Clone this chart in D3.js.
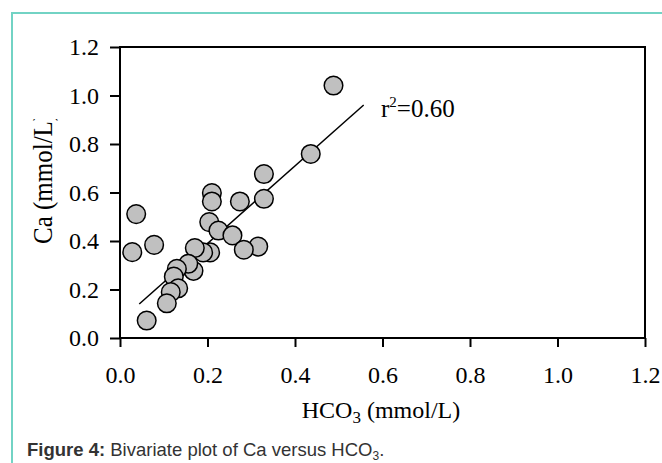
<!DOCTYPE html>
<html>
<head>
<meta charset="utf-8">
<script src="https://cdn.jsdelivr.net/npm/d3@7"></script>
<style>
  body { margin: 0; background: #fff; }
  svg { display: block; }
</style>
</head>
<body>
<svg width="662" height="463"></svg>
<script>
// values
const hco3 = [0.488, 0.436, 0.329, 0.329, 0.274, 0.210, 0.210, 0.204, 0.225, 0.257,
              0.316, 0.283, 0.206, 0.190, 0.171, 0.168, 0.156, 0.130, 0.123, 0.133,
              0.116, 0.107, 0.061, 0.037, 0.078, 0.028];
const ca   = [1.041, 0.759, 0.676, 0.574, 0.563, 0.598, 0.563, 0.478, 0.443, 0.423,
              0.377, 0.364, 0.353, 0.353, 0.371, 0.277, 0.306, 0.285, 0.253, 0.205,
              0.189, 0.143, 0.072, 0.511, 0.384, 0.354];
const fitX = [0.044, 0.557];
const fitY = [0.140, 0.961];
const xTicks = [0, 0.2, 0.4, 0.6, 0.8, 1.0, 1.2];
const yTicks = [0, 0.2, 0.4, 0.6, 0.8, 1.0, 1.2];

const points = hco3.map((d, i) => ({ x: d, y: ca[i] }));

const svg = d3.select('svg');
const serif = '"Liberation Serif", "Times New Roman", serif';

// teal frame round the figure
svg.append('rect')
    .attr('x', 12).attr('y', 13)
    .attr('width', 700).attr('height', 500)
    .attr('fill', 'none')
    .attr('stroke', '#72d3c4')
    .attr('stroke-width', 2);

const x = d3.scaleLinear().domain([0, 1.2]).range([120, 645]);
const y = d3.scaleLinear().domain([0, 1.2]).range([338, 47]);

// y axis
const yAxis = svg.append('g')
    .attr('transform', `translate(${x(0)},0)`)
    .call(d3.axisLeft(y).tickValues(yTicks).tickFormat(d3.format('.1f'))
        .tickSize(10).tickPadding(11));
yAxis.select('.domain').remove();

// x axis
const xAxis = svg.append('g')
    .attr('transform', `translate(0,${y(0)})`)
    .call(d3.axisBottom(x).tickValues(xTicks).tickFormat(d3.format('.1f'))
        .tickSize(9).tickPadding(19));
xAxis.select('.domain').remove();

svg.selectAll('.tick line').attr('stroke', '#000').attr('stroke-width', 2);
svg.selectAll('.tick text')
    .attr('fill', '#000')
    .style('font-family', serif)
    .style('font-size', '24px');

// plot box
svg.append('rect')
    .attr('x', x(0)).attr('y', y(1.2))
    .attr('width', x(1.2) - x(0)).attr('height', y(0) - y(1.2))
    .attr('fill', 'none')
    .attr('stroke', '#000')
    .attr('stroke-width', 2);

// regression line
svg.append('line')
    .attr('x1', x(fitX[0])).attr('y1', y(fitY[0]))
    .attr('x2', x(fitX[1])).attr('y2', y(fitY[1]))
    .attr('stroke', '#000')
    .attr('stroke-width', 1.5);

// points
svg.append('g').selectAll('circle')
    .data(points)
    .enter().append('circle')
    .attr('cx', d => x(d.x))
    .attr('cy', d => y(d.y))
    .attr('r', 9.3)
    .attr('fill', '#c0c0c0')
    .attr('stroke', '#000')
    .attr('stroke-width', 1.5);

// r2 label
const r2 = svg.append('text')
    .attr('x', 381).attr('y', 117)
    .style('font-family', serif)
    .style('font-size', '25px');
r2.append('tspan').text('r');
r2.append('tspan').attr('dy', -10).style('font-size', '15px').text('2');
r2.append('tspan').attr('dy', 10).text('=0.60');

// x axis title
const xt = svg.append('text')
    .attr('x', 381).attr('y', 418)
    .attr('text-anchor', 'middle')
    .style('font-family', serif)
    .style('font-size', '24px');
xt.append('tspan').text('HCO');
xt.append('tspan').attr('dy', 5).style('font-size', '17px').text('3');
xt.append('tspan').attr('dy', -5).text(' (mmol/L)');

// y axis title, top cut off as in the source
svg.append('clipPath').attr('id', 'ylab-clip')
    .append('rect').attr('x', 0).attr('y', 119).attr('width', 100).attr('height', 200);
svg.append('g')
    .attr('clip-path', 'url(#ylab-clip)')
    .append('text')
    .attr('transform', 'translate(52,244) rotate(-90) scale(1,1.12)')
    .style('font-family', serif)
    .style('font-size', '25px')
    .text('Ca (mmol/L)');

// caption
const cap = svg.append('text')
    .attr('x', 27).attr('y', 456)
    .attr('fill', '#333')
    .style('font-family', '"Liberation Sans", Arial, sans-serif')
    .style('font-size', '18.5px');
cap.append('tspan').style('font-weight', 'bold').text('Figure 4:');
cap.append('tspan').text(' Bivariate plot of Ca versus HCO');
cap.append('tspan').attr('dy', 4).style('font-size', '12px').text('3');
cap.append('tspan').attr('dy', -4).text('.');
</script>
</body>
</html>
